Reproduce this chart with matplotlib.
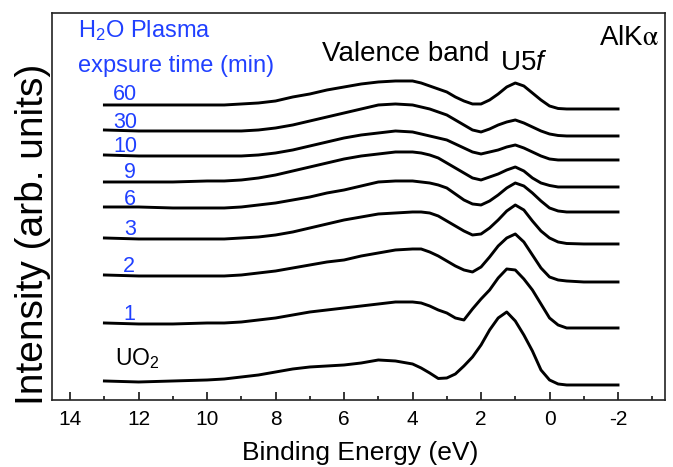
import matplotlib
matplotlib.use("Agg")
import matplotlib.pyplot as plt
from matplotlib.ticker import MultipleLocator

plt.rcParams["font.family"] = ["Liberation Sans", "DejaVu Sans"]
plt.rcParams["mathtext.fontset"] = "custom"
plt.rcParams["mathtext.rm"] = "Liberation Sans"
plt.rcParams["mathtext.it"] = "Liberation Sans:italic"
plt.rcParams["axes.unicode_minus"] = False

BLUE = "#2040FF"

# binding energy grid (eV) the spectra were read at
energy = [13, 12, 11, 10, 9.5, 9, 8.5, 8, 7.5, 7, 6.5, 6, 5.5, 5, 4.5, 4, 3.75,
          3.5, 3.25, 3, 2.75, 2.5, 2.25, 2, 1.75, 1.5, 1.25, 1, 0.75, 0.5, 0.25,
          0, -0.25, -0.5, -1, -2]

# stacked intensities (arb. units, offsets included), bottom to top
uo2 = [19, 18, 19, 20, 21, 23, 25, 28, 31, 33, 34, 35, 37, 40, 39, 36, 32, 27,
       21.5, 22, 26, 34, 43, 55, 70, 82, 88, 79, 65, 49, 30, 20, 16, 15, 15, 15]
t1 = [77, 76, 76, 77, 77, 78, 80, 82, 85, 88, 90, 92, 94, 96, 98, 98, 97, 94,
      90, 87, 82, 80, 91, 101, 110, 122, 131, 130, 121, 110, 96, 82, 75, 72, 72, 72]
t2 = [125, 124, 124, 124, 124, 125, 127, 129, 132, 135, 138, 140, 144, 147, 150,
      151, 151, 148, 144, 139, 134, 130, 128, 133, 143, 154, 162, 166, 158, 145,
      132, 123, 120, 119, 118, 118]
t3 = [162, 161, 161, 161, 161, 162, 163, 165, 168, 172, 176, 180, 183, 186, 187,
      188, 188, 187, 184, 179, 174, 169, 165, 166, 172, 180, 189, 195, 190, 179,
      169, 162, 158, 156.5, 156, 156]
t6 = [193, 193, 192, 192, 192, 193, 195, 197, 200, 203, 207, 210, 214, 218, 219,
      219, 218, 217, 215, 212, 206, 200, 196, 195, 199, 205, 212, 217, 214, 207,
      199, 192, 189, 188, 188, 188]
t9 = [218, 218, 218, 219, 219, 220, 222, 225, 229, 233, 237, 241, 244, 246, 248,
      248, 247, 245, 242, 237, 232, 227, 222, 220, 223, 226, 230, 233, 229, 222,
      217, 214.5, 213, 213, 213, 213]
t10 = [245, 244, 244, 244, 244, 244, 245, 247, 250, 254, 258, 262, 265, 267, 269,
       268, 266, 264, 262, 260, 256, 252, 248, 246, 248, 250, 253, 255, 252, 248,
       244, 241, 240, 240, 240, 240]
t30 = [270, 269, 269, 269, 269, 269, 270, 272, 275, 279, 283, 287, 291, 295, 296,
       295, 293, 291, 288, 285, 280, 275, 270, 268, 271, 275, 278, 280, 277, 273,
       269, 266, 264.5, 264, 264, 264]
t60 = [295, 295, 295, 295, 295, 296, 297, 299, 303, 306, 310, 313, 316, 318, 319,
       319, 317, 314, 311, 308, 303, 299, 296, 296, 300, 306, 313, 317, 314, 307,
       300, 294, 291.5, 291, 291, 291]

spectra = [uo2, t1, t2, t3, t6, t9, t10, t30, t60]
time_labels = ["1", "2", "3", "6", "9", "10", "30", "60"]

# label anchors (energy, height)
label_pos = [(12.28, 80), (12.28, 128), (12.25, 165), (12.25, 195), (12.25, 222),
             (12.4, 248), (12.4, 272), (12.4, 300)]

fig = plt.figure(figsize=(6.73, 4.67), dpi=100)
ax = fig.add_axes([0.0773, 0.1435, 0.9107, 0.8287])

for s in spectra:
    ax.plot(energy, s, color="black", lw=2.1, solid_joinstyle="round")

for lab, (x, y) in zip(time_labels, label_pos):
    ax.text(x, y, lab, color=BLUE, fontsize=15.5, ha="center", va="baseline")

ax.text(12.69, 35, "UO$_2$", color="black", fontsize=16.5, ha="left", va="baseline")
ax.text(13.77, 363, "H$_2$O Plasma", color=BLUE, fontsize=17, ha="left", va="baseline")
ax.text(13.77, 328, "expsure time (min)", color=BLUE, fontsize=17, ha="left", va="baseline")
ax.text(6.64, 339, "Valence band", fontsize=20, ha="left", va="baseline")
ax.text(1.445, 330, r"U$\mathit{5f}$", fontsize=20, ha="left", va="baseline")
ax.text(-1.445, 355, r"AlK$\mathrm{\alpha}$", fontsize=20, ha="left", va="baseline",
        math_fontfamily="stix")

ax.set_xlim(14.53, -3.37)
ax.set_ylim(0, 387)
ax.xaxis.set_major_locator(MultipleLocator(2))
ax.xaxis.set_minor_locator(MultipleLocator(1))
ax.tick_params(axis="x", which="major", direction="in", length=6, width=1.1,
               labelsize=15, pad=7, top=False)
ax.tick_params(axis="x", which="minor", direction="in", length=3, width=1.1, top=False)
ax.set_yticks([])
for sp in ax.spines.values():
    sp.set_linewidth(1.2)
    sp.set_color("#222222")

fig.text(360 / 673, 1 - 460 / 467, "Binding Energy (eV)", fontsize=19,
         ha="center", va="baseline")
fig.text(43 / 673, 1 - 234 / 467, "Intensity (arb. units)", fontsize=28,
         rotation=90, ha="center", va="baseline", rotation_mode="anchor")

fig.savefig("out.png", dpi=100)
